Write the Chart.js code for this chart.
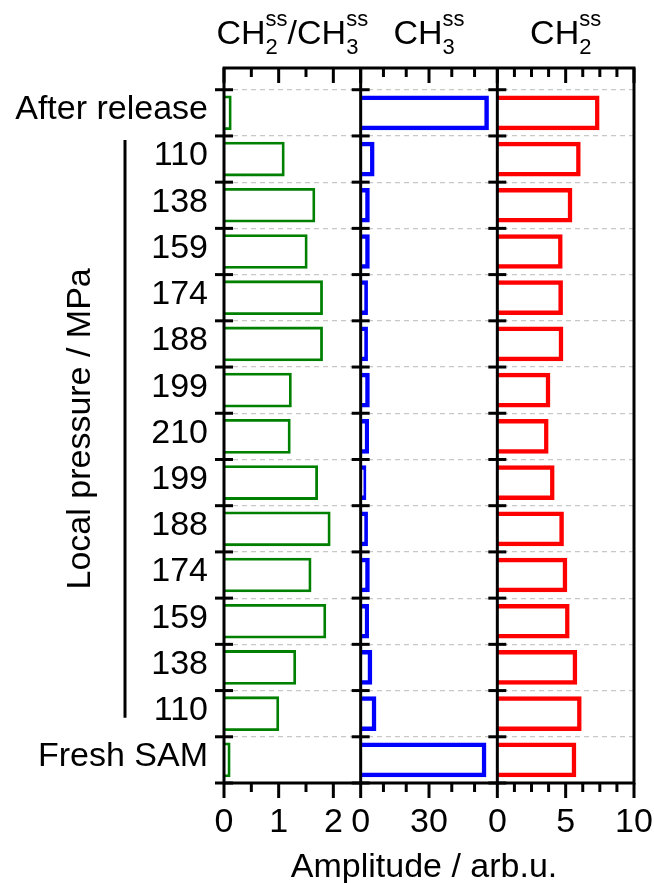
<!DOCTYPE html>
<html>
<head>
<meta charset="utf-8">
<script src="https://cdn.jsdelivr.net/npm/chart.js@4.4.1/dist/chart.umd.min.js"></script>
<style>
  html, body { margin: 0; padding: 0; background: #fff; }
  #wrap { width: 654px; height: 883px; }
</style>
</head>
<body>
<div id="wrap"><canvas id="c" width="654" height="883"></canvas></div>
<script>
// Rows, top to bottom
const rows = ['After release', '110', '138', '159', '174', '188', '199', '210',
              '199', '188', '174', '159', '138', '110', 'Fresh SAM'];

// Amplitudes per row (same order as rows)
const ratioCH2CH3 = [0.14, 1.11, 1.67, 1.53, 1.81, 1.81, 1.24, 1.22, 1.72, 1.95, 1.60, 1.87, 1.32, 1.01, 0.12];
const ampCH3      = [56.3, 6.1, 4.0, 4.0, 3.2, 3.2, 4.0, 3.7, 2.5, 3.2, 4.0, 3.7, 5.1, 6.9, 55.2];
const ampCH2      = [7.48, 6.10, 5.49, 4.78, 4.80, 4.83, 3.88, 3.75, 4.19, 4.87, 5.12, 5.29, 5.85, 6.17, 5.78];

// Axis ranges and ticks of the three panels
const ratioMax = 2.5, ch3Max = 60, ch2Max = 10;
const ratioTicks = [0, 1, 2],   ratioMinor = [0.5, 1.5];
const ch3Ticks   = [0, 30],     ch3Minor   = [10, 20, 40, 50];
const ch2Ticks   = [0, 5, 10],  ch2Minor   = [1.25, 2.5, 3.75, 6.25, 7.5, 8.75];

// Panel headings: [main text] or [subscript, superscript]
const panelTitles = [
  [['CH'], ['2', 'ss'], ['/CH'], ['3', 'ss']],
  [['CH'], ['3', 'ss']],
  [['CH'], ['2', 'ss']]
];
const xTitle = 'Amplitude / arb.u.';
const yTitle = 'Local pressure / MPa';

const FONT = '"Liberation Sans", Arial, sans-serif';
const MAIN = 34, SCRIPT = 22;

const panelSpecs = [
  { id: 'x1', max: ratioMax, labels: ratioTicks, minor: ratioMinor },
  { id: 'x2', max: ch3Max,   labels: ch3Ticks,   minor: ch3Minor },
  { id: 'x3', max: ch2Max,   labels: ch2Ticks,   minor: ch2Minor }
];

function xScale(spec) {
  return {
    type: 'linear',
    position: 'bottom',
    stack: 'amp',
    stackWeight: 1,
    min: 0,
    max: spec.max,
    grid: { display: false, drawTicks: false },
    border: { display: false },
    ticks: {
      autoSkip: false, maxRotation: 0, padding: 19,
      color: '#000', font: { family: FONT, size: MAIN }
    },
    afterBuildTicks: s => { s.ticks = spec.labels.map(v => ({ value: v })); },
    afterFit: s => { s.height = 100; s.paddingLeft = 0; s.paddingRight = 0; }
  };
}

const toPoints = vals => vals.map((v, i) => ({ x: v, y: i }));

// Spines, tick marks, headings and axis titles
const framePlugin = {
  id: 'frame',
  afterDatasetsDraw(chart) {
    const { ctx, chartArea: a, scales } = chart;
    const y = scales.y;
    const panels = panelSpecs.map(p => scales[p.id]);
    const line = (x0, y0, x1, y1) => { ctx.beginPath(); ctx.moveTo(x0, y0); ctx.lineTo(x1, y1); ctx.stroke(); };

    ctx.save();
    ctx.strokeStyle = '#000';
    ctx.lineWidth = 3;

    // x tick marks: outward at the bottom, inward at the top
    panels.forEach((s, k) => {
      const spec = panelSpecs[k];
      const mark = (v, len) => {
        const px = s.getPixelForValue(v);
        line(px, a.bottom, px, a.bottom + len);
        line(px, a.top, px, a.top + len);
      };
      spec.labels.forEach(v => mark(v, 15));
      spec.minor.forEach(v => mark(v, 9));
    });

    // row boundary ticks crossing each panel's left spine
    for (let i = 0; i <= rows.length; i++) {
      const py = y.getPixelForValue(i - 0.5);
      panels.forEach(s => line(s.left - 9, py, s.left + 9, py));
    }

    // frame and panel dividers
    ctx.strokeRect(a.left, a.top, a.right - a.left, a.bottom - a.top);
    panels.slice(1).forEach(s => line(s.left, a.top, s.left, a.bottom));

    // panel headings with sub/superscripts
    ctx.fillStyle = '#000';
    ctx.textBaseline = 'alphabetic';
    ctx.textAlign = 'left';
    const mainFont = `${MAIN}px ${FONT}`, scriptFont = `${SCRIPT}px ${FONT}`;
    const baseY = a.top - 24;
    panelTitles.forEach((parts, k) => {
      const s = panels[k];
      const widths = parts.map(p => {
        if (p.length === 1) { ctx.font = mainFont; return ctx.measureText(p[0]).width; }
        ctx.font = scriptFont;
        return Math.max(ctx.measureText(p[0]).width, ctx.measureText(p[1]).width);
      });
      const total = widths.reduce((t, w) => t + w, 0);
      let x = (s.left + s.right) / 2 - total / 2;
      parts.forEach((p, j) => {
        if (p.length === 1) {
          ctx.font = mainFont; ctx.fillText(p[0], x, baseY);
        } else {
          ctx.font = scriptFont;
          ctx.fillText(p[0], x, baseY + 10);
          ctx.fillText(p[1], x, baseY - 18);
        }
        x += widths[j];
      });
    });

    // x axis title
    ctx.font = mainFont;
    ctx.textAlign = 'center';
    ctx.fillText(xTitle, (a.left + a.right) / 2 - 5, a.bottom + 94);

    // bracket spanning the pressure rows, with the y axis title
    const first = rows.findIndex(r => /^\d+$/.test(r));
    const last = rows.length - 1 - [...rows].reverse().findIndex(r => /^\d+$/.test(r));
    const top = y.getPixelForValue(first) - 19;
    const bottom = y.getPixelForValue(last) + 4;
    line(125, top, 125, bottom);
    ctx.save();
    ctx.translate(90, (top + bottom) / 2);
    ctx.rotate(-Math.PI / 2);
    ctx.fillText(yTitle, 0, 0);
    ctx.restore();

    ctx.restore();
  }
};

new Chart(document.getElementById('c'), {
  type: 'bar',
  data: {
    datasets: [
      { label: 'CH2ss/CH3ss', xAxisID: 'x1', yAxisID: 'y', data: toPoints(ratioCH2CH3),
        borderColor: '#008000', borderWidth: 2.8 },
      { label: 'CH3ss', xAxisID: 'x2', yAxisID: 'y', data: toPoints(ampCH3),
        borderColor: '#0000ff', borderWidth: 4.5 },
      { label: 'CH2ss', xAxisID: 'x3', yAxisID: 'y', data: toPoints(ampCH2),
        borderColor: '#ff0000', borderWidth: 4.5 }
    ].map(d => Object.assign(d, {
      backgroundColor: 'rgba(255,255,255,0)',
      grouped: false,
      barPercentage: 0.75,
      categoryPercentage: 1
    }))
  },
  options: {
    indexAxis: 'y',
    responsive: false,
    devicePixelRatio: 1,
    animation: false,
    layout: { padding: { left: 0, right: 20, top: 68, bottom: 0 } },
    plugins: { legend: { display: false }, tooltip: { enabled: false } },
    scales: {
      y: {
        type: 'linear',
        position: 'left',
        reverse: true,
        offset: false,
        min: -0.97,
        max: rows.length - 0.5,
        grid: { display: true, offset: true, drawTicks: false, color: '#c8c8c8', lineWidth: 1.2 },
        border: { display: false, dash: [5, 4] },
        ticks: {
          autoSkip: false, padding: 16, labelOffset: -3,
          color: '#000', font: { family: FONT, size: MAIN },
          callback: v => rows[v]
        },
        afterBuildTicks: s => { s.ticks = rows.map((_, i) => ({ value: i })); },
        afterFit: s => { s.width = 224; s.paddingTop = 0; s.paddingBottom = 0; }
      },
      x1: xScale(panelSpecs[0]),
      x2: xScale(panelSpecs[1]),
      x3: xScale(panelSpecs[2])
    }
  },
  plugins: [framePlugin]
});
</script>
</body>
</html>
